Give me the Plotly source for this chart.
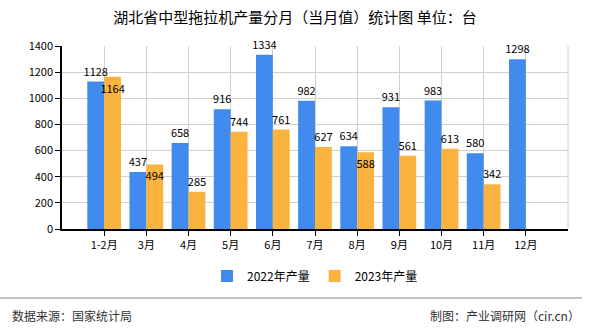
import plotly.graph_objects as go

categories = ["1-2月", "3月", "4月", "5月", "6月", "7月", "8月", "9月", "10月", "11月", "12月"]
values_2022 = [1128, 437, 658, 916, 1334, 982, 634, 931, 983, 580, 1298]
values_2023 = [1164, 494, 285, 744, 761, 627, 588, 561, 613, 342, None]
series_names = ["2022年产量", "2023年产量"]
y_ticks = [0, 200, 400, 600, 800, 1000, 1200, 1400]

FONT = "Noto Sans CJK SC"


def label_positions(own, other):
    # put a label inside the bar top when it would collide with the neighbour's label
    pos = []
    for a, b in zip(own, other):
        if a is not None and b is not None and abs(a - b) < 80:
            pos.append("inside")
        else:
            pos.append("outside")
    return pos


fig = go.Figure()
series = [
    (series_names[0], values_2022, "#418bee", ["outside"] * len(values_2022)),
    (series_names[1], values_2023, "#fbb33f", label_positions(values_2023, values_2022)),
]
for name, vals, color, pos in series:
    fig.add_trace(go.Bar(
        x=categories, y=vals, name=name, marker_color=color,
        marker_line_width=0,
        text=[("" if v is None else str(v)) for v in vals],
        textposition=pos, insidetextanchor="end", textangle=0,
        cliponaxis=False, constraintext="none",
        textfont=dict(family=FONT, size=11, color="#000"),
        insidetextfont=dict(family=FONT, size=11, color="#000"),
        outsidetextfont=dict(family=FONT, size=11, color="#000"),
    ))

fig.update_layout(
    width=590, height=330,
    margin=dict(l=62, r=22, t=46, b=101),
    paper_bgcolor="white", plot_bgcolor="white",
    barmode="group", bargap=0.2, bargroupgap=0,
    font=dict(family=FONT, size=11, color="#000"),
    title=dict(text="湖北省中型拖拉机产量分月（当月值）统计图 单位：台",
               x=0.5, xanchor="center", y=0.945, yanchor="middle",
               font=dict(family=FONT, size=15, color="#000")),
    legend=dict(orientation="h", x=0.5, xanchor="center", y=-(276-229)/183, yanchor="middle",
                font=dict(family=FONT, size=12, color="#000"),
                itemwidth=30, traceorder="normal"),
    showlegend=True,
)
fig.update_xaxes(
    type="category", range=[-1, len(categories)],
    showline=True, linecolor="#000", linewidth=1.5,
    showgrid=True, gridcolor="#d0d0d0", gridwidth=1,
    ticks="outside", ticklen=5, tickcolor="#000",
    tickfont=dict(family=FONT, size=11, color="#000"),
)
fig.update_yaxes(
    range=[0, 1400], tickvals=y_ticks,
    showline=True, linecolor="#000", linewidth=1.5,
    showgrid=True, gridcolor="#d0d0d0", gridwidth=1,
    ticks="outside", ticklen=5, tickcolor="#000",
    tickfont=dict(family=FONT, size=11, color="#000"),
    zeroline=False,
)
# right border line of plot area
fig.add_shape(type="line", xref="paper", yref="paper", x0=1, x1=1, y0=0, y1=1,
              line=dict(color="#d0d0d0", width=1))
# footer separator
fig.add_shape(type="line", xref="paper", yref="paper", x0=-62/506, x1=(590-8-62)/506,
              y0=-(298-229)/183, y1=-(298-229)/183, line=dict(color="#888", width=1))
fig.add_annotation(text="数据来源：国家统计局", xref="paper", yref="paper",
                   x=-52/506, xanchor="left", y=-(315-229)/183, yanchor="middle",
                   showarrow=False, font=dict(family=FONT, size=12, color="#333"))
fig.add_annotation(text="制图：产业调研网（cir.cn）", xref="paper", yref="paper",
                   x=(582-62)/506, xanchor="right", y=-(315-229)/183, yanchor="middle",
                   showarrow=False, font=dict(family=FONT, size=12, color="#333"))

fig.write_html("out.html")
